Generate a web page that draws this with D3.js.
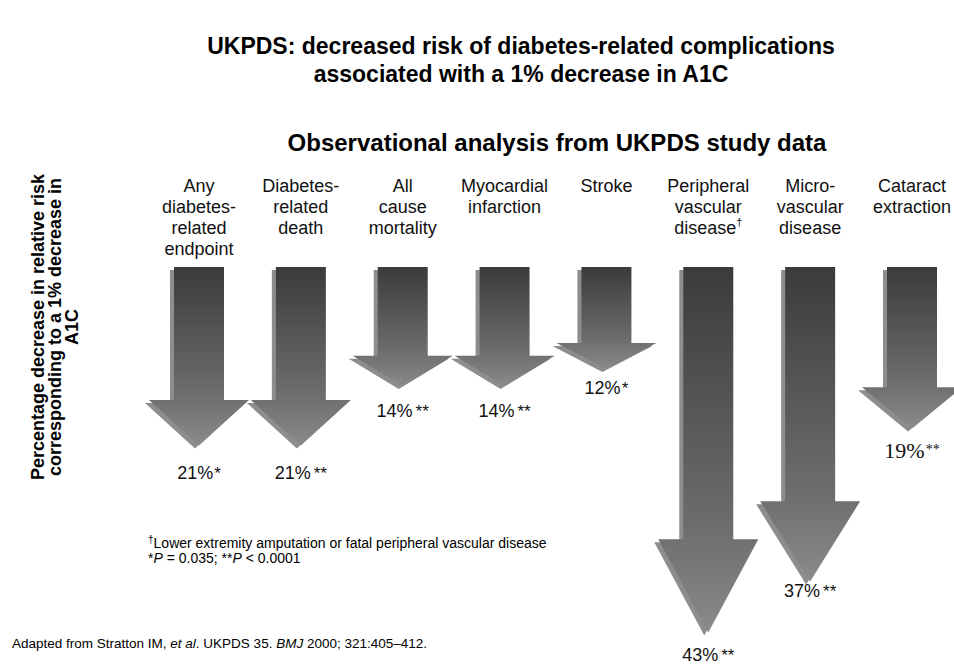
<!DOCTYPE html>
<html>
<head>
<meta charset="utf-8">
<script src="https://cdn.jsdelivr.net/npm/d3@7"></script>
<style>
  html, body { margin: 0; padding: 0; background: #fff; }
  svg { display: block; font-family: "Liberation Sans", Arial, sans-serif; }
</style>
</head>
<body>
<div id="chart"></div>
<script>
/* ── data ───────────────────────────────────────────── */
const categories = [
  ["Any", "diabetes-", "related", "endpoint"],
  ["Diabetes-", "related", "death"],
  ["All", "cause", "mortality"],
  ["Myocardial", "infarction"],
  ["Stroke"],
  ["Peripheral", "vascular", "disease\u2020"],
  ["Micro-", "vascular", "disease"],
  ["Cataract", "extraction"]
];
const riskDecrease = [21, 21, 14, 14, 12, 43, 37, 19];
const significance = ["*", "**", "**", "**", "*", "**", "**", "**"];
const yTitle = ["Percentage decrease in relative risk", "corresponding to a 1% decrease in", "A1C"];

/* ── layout ─────────────────────────────────────────── */
const W = 954, H = 667;
const top0 = 267;
const labelGap = [27, 27, 25, 25, 19, 22, 9, 22];   // tip -> value label centre
const serifLabel = [false, false, false, false, false, false, false, true];

const svg = d3.select("#chart").append("svg")
  .attr("width", W).attr("height", H);

const defs = svg.append("defs");
const grad = defs.append("linearGradient")
  .attr("id", "arrowGrad").attr("x1", 0).attr("y1", 0).attr("x2", 0).attr("y2", 1);
grad.append("stop").attr("offset", "0%").attr("stop-color", "#3b3b3b");
grad.append("stop").attr("offset", "70%").attr("stop-color", "#6c6c6c");
grad.append("stop").attr("offset", "100%").attr("stop-color", "#8a8a8a");

const x = d3.scalePoint().domain(d3.range(categories.length)).range([199, 912]);
const y = d3.scaleLinear().domain([0, 45]).range([top0, top0 + 45 * 8.5]);

const shaftHalf = 25, headHalf = 50, headFrac = 0.255;

function arrowPath(i) {
  const cx = x(i), yTop = y(0), yTip = y(riskDecrease[i]);
  const yHead = yTip - (yTip - yTop) * headFrac;
  return `M${cx - shaftHalf},${yTop} L${cx + shaftHalf},${yTop} L${cx + shaftHalf},${yHead}
          L${cx + headHalf},${yHead} L${cx},${yTip} L${cx - headHalf},${yHead}
          L${cx - shaftHalf},${yHead} Z`;
}

/* titles */
svg.append("text").attr("x", 521).attr("y", 54)
  .attr("text-anchor", "middle").attr("font-size", "23px").attr("font-weight", "bold")
  .text("UKPDS: decreased risk of diabetes-related complications");
svg.append("text").attr("x", 521).attr("y", 82)
  .attr("text-anchor", "middle").attr("font-size", "23px").attr("font-weight", "bold")
  .text("associated with a 1% decrease in A1C");
svg.append("text").attr("x", 557).attr("y", 151)
  .attr("text-anchor", "middle").attr("font-size", "24px").attr("font-weight", "bold")
  .text("Observational analysis from UKPDS study data");

/* y-axis title */
const yt = svg.append("text")
  .attr("transform", "translate(55,327) rotate(-90)")
  .attr("text-anchor", "middle").attr("font-size", "18px").attr("font-weight", "bold");
yTitle.forEach((t, k) => {
  yt.append("tspan").attr("x", 0).attr("y", (k - 1) * 17).attr("dy", "0.35em").text(t);
});

/* category labels */
const cat = svg.append("g").selectAll("text").data(categories).join("text")
  .attr("text-anchor", "middle").attr("font-size", "18px").attr("fill", "#111");
cat.each(function (lines, i) {
  const t = d3.select(this);
  lines.forEach((ln, k) => {
    const sp = t.append("tspan").attr("x", x(i)).attr("y", 192 + k * 21);
    if (ln.endsWith("\u2020")) {
      sp.text(ln.slice(0, -1));
      t.append("tspan").attr("font-size", "11px").attr("dy", -8).text("\u2020");
    } else sp.text(ln);
  });
});

/* arrows: offset lighter back layer + gradient front */
const arrows = svg.append("g");
arrows.selectAll("path.back").data(riskDecrease).join("path")
  .attr("class", "back")
  .attr("d", (d, i) => arrowPath(i))
  .attr("transform", "translate(-4,3)")
  .attr("fill", "#8d8d8d");
arrows.selectAll("path.front").data(riskDecrease).join("path")
  .attr("class", "front")
  .attr("d", (d, i) => arrowPath(i))
  .attr("fill", "url(#arrowGrad)");

/* value labels */
const vals = svg.append("g").selectAll("text").data(riskDecrease).join("text")
  .attr("x", (d, i) => x(i))
  .attr("y", (d, i) => y(d) + labelGap[i])
  .attr("dy", "0.35em")
  .attr("text-anchor", "middle")
  .attr("fill", "#111")
  .attr("font-family", (d, i) => serifLabel[i] ? "'Liberation Serif', 'Times New Roman', serif" : null)
  .attr("font-size", (d, i) => serifLabel[i] ? "22px" : "18px");
vals.append("tspan").text(d => d + "%");
vals.append("tspan")
  .attr("font-size", (d, i) => serifLabel[i] ? "14px" : "17px")
  .attr("dy", (d, i) => serifLabel[i] ? -4 : 0)
  .attr("dx", (d, i) => significance[i] === "**" && !serifLabel[i] ? 3 : 1)
  .text((d, i) => significance[i]);

/* footnotes */
const fn1 = svg.append("text").attr("x", 148).attr("y", 548).attr("font-size", "14px");
fn1.append("tspan").attr("font-size", "10px").attr("dy", -5).text("\u2020");
fn1.append("tspan").attr("dy", 5).text("Lower extremity amputation or fatal peripheral vascular disease");

const fn2 = svg.append("text").attr("x", 148).attr("y", 563).attr("font-size", "14px");
fn2.append("tspan").text("*");
fn2.append("tspan").attr("font-style", "italic").text("P");
fn2.append("tspan").text(" = 0.035; **");
fn2.append("tspan").attr("font-style", "italic").text("P");
fn2.append("tspan").text(" < 0.0001");

const src = svg.append("text").attr("x", 12).attr("y", 648).attr("font-size", "13.5px");
src.append("tspan").text("Adapted from Stratton IM, ");
src.append("tspan").attr("font-style", "italic").text("et al");
src.append("tspan").text(". UKPDS 35. ");
src.append("tspan").attr("font-style", "italic").text("BMJ");
src.append("tspan").text(" 2000; 321:405\u2013412.");
</script>
</body>
</html>
